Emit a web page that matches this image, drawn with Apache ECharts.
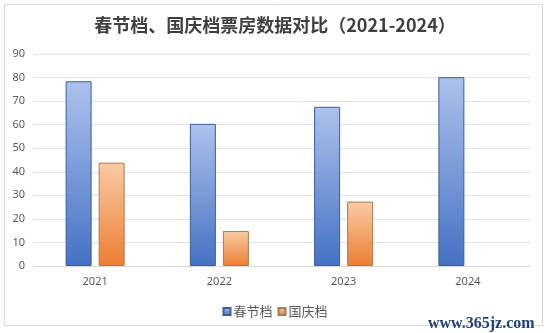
<!DOCTYPE html>
<html>
<head>
<meta charset="utf-8">
<script src="https://cdn.jsdelivr.net/npm/echarts@6/dist/echarts.min.js"></script>
<style>html,body{margin:0;padding:0;background:#fff;}#c{width:550px;height:333px;}</style>
</head>
<body>
<div id="c"></div>
<script>
var titleText = '春节档、国庆档票房数据对比（2021-2024）';
var categories = ['2021', '2022', '2023', '2024'];
var seriesNames = ['春节档', '国庆档'];
var springValues = [78.42, 60.35, 67.58, 80.16];
var nationalValues = [43.87, 14.84, 27.34, null];
var yMin = 0, yMax = 90, yInterval = 10;

var chart = echarts.init(document.getElementById('c'), null, {renderer: 'canvas'});
function grad(top, bottom) {
  return new echarts.graphic.LinearGradient(0, 0, 0, 1, [
    {offset: 0, color: top}, {offset: 1, color: bottom}
  ]);
}
chart.setOption({
  backgroundColor: '#fff',
  animation: false,
  title: {
    text: titleText,
    left: 'center',
    top: 11,
    textStyle: {fontFamily: 'Noto Sans CJK SC', fontSize: 18, fontWeight: 'bold', color: '#404040'}
  },
  graphic: [
    {type: 'rect', shape: {x: 4.5, y: 4.5, width: 538, height: 321}, style: {fill: 'none', stroke: '#d9d9d9', lineWidth: 1}, z: -1},
    {type: 'text', left: 428, top: 316, style: {text: 'www.365jz.com', fontFamily: 'Liberation Serif', fontWeight: 'bold', fontSize: 16, fill: '#1f3f7a'}}
  ],
  legend: {
    data: seriesNames,
    left: 'center',
    top: 300,
    itemWidth: 7,
    itemHeight: 7,
    itemGap: 5,
    icon: 'rect',
    textStyle: {fontFamily: 'Noto Sans CJK SC', fontSize: 13, color: '#595959', padding: [0, 0, 0, -2]}
  },
  grid: {left: 33, right: 20, top: 54, bottom: 67},
  xAxis: {
    type: 'category',
    data: categories,
    axisTick: {show: false},
    axisLine: {lineStyle: {color: '#d9d9d9'}},
    axisLabel: {color: '#595959', fontSize: 11, fontFamily: 'Noto Sans', margin: 10}
  },
  yAxis: {
    type: 'value',
    min: yMin, max: yMax, interval: yInterval,
    axisLine: {show: false},
    axisTick: {show: false},
    splitLine: {lineStyle: {color: '#e3e3e3'}},
    axisLabel: {color: '#595959', fontSize: 11, fontFamily: 'Noto Sans', margin: 8}
  },
  series: [
    {
      name: seriesNames[0], type: 'bar', data: springValues,
      barWidth: 26, barGap: '27%',
      itemStyle: {color: grad('#adc1ec', '#4472c4'), borderColor: '#3a5d9c', borderWidth: 1}
    },
    {
      name: seriesNames[1], type: 'bar', data: nationalValues,
      barWidth: 26, barGap: '27%',
      itemStyle: {color: grad('#f9cba4', '#ed7d31'), borderColor: '#a77a5c', borderWidth: 1}
    }
  ]
});
</script>
</body>
</html>
